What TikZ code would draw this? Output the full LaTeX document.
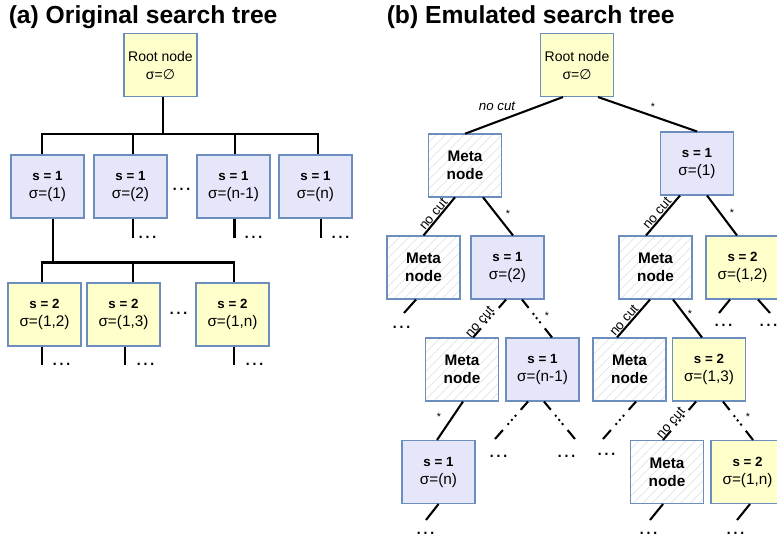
\documentclass[tikz,border=0pt]{standalone}
\usepackage{fontspec}
\setmainfont{Liberation Sans}
\newfontfamily\dvfont{DejaVu Sans}
\usetikzlibrary{calc,patterns.meta}
\definecolor{yfill}{RGB}{255,255,204}
\definecolor{bfill}{RGB}{230,230,250}
\definecolor{bordc}{RGB}{108,142,191}
\definecolor{hatchc}{RGB}{222,222,222}
\newcommand\boldlab[1]{{\bfseries\fontsize{10}{13.5}\selectfont #1}}
\newcommand\dotconn[2]{%
  \draw[conn] (#1) -- ($(#1)!0.22!(#2)$);
  \foreach \t in {0.38,0.49,0.60}{\fill ($(#1)!\t!(#2)$) circle (1.4);}
  \draw[conn] ($(#1)!0.76!(#2)$) -- (#2);}
\tikzset{
  box/.style={draw=bordc, line width=0.8pt, minimum width=54.75pt, minimum height=47.25pt,
    inner sep=0pt, align=center, font=\fontsize{11.5}{13.5}\selectfont},
  ybox/.style={box, fill=yfill},
  bbox/.style={box, fill=bfill},
  rootbox/.style={ybox, font=\fontsize{10.5}{13.5}\selectfont},
  mbox/.style={box, pattern={Lines[angle=45,distance=5pt,line width=0.4pt]}, pattern color=hatchc,
    font=\bfseries\fontsize{11.5}{13.5}\selectfont},
  conn/.style={line width=1.55pt, black},
  dotsty/.style={font=\fontsize{16}{16}\selectfont, inner sep=0pt, anchor=base west},
  nclab/.style={font=\fontsize{10}{12}\selectfont, inner sep=0.5pt},
  toplab/.style={font=\itshape\fontsize{10}{12}\selectfont, inner sep=0.5pt},
  star/.style={font=\fontsize{8}{10}\selectfont, inner sep=0.5pt},
  title/.style={font=\bfseries\fontsize{18.5}{20}\selectfont, inner sep=0pt, anchor=base west}
}
\begin{document}
\begin{tikzpicture}[x=0.75pt,y=-0.75pt]
\fill[white] (0,0) rectangle (777,533);
\useasboundingbox (0,0) rectangle (777,533);

% ---------- titles
\node[title] (ta) at (8.5,23.3) {(a) Original search tree};
\node[title] (tb) at (386.5,23.3) {(b) Emulated search tree};

% ---------- panel (a)
\node[rootbox] (ra) at (160.5,65) {Root node\\σ={\dvfont ∅}};
\node[bbox] (a1) at (47.5,186.5) {\boldlab{s = 1}\\σ=(1)};
\node[bbox] (a2) at (130.5,186.5) {\boldlab{s = 1}\\σ=(2)};
\node[bbox] (a3) at (233.5,186.5) {\boldlab{s = 1}\\σ=(n-1)};
\node[bbox] (a4) at (315.5,186.5) {\boldlab{s = 1}\\σ=(n)};
\node[ybox] (b1) at (44.5,314.5) {\boldlab{s = 2}\\σ=(1,2)};
\node[ybox] (b2) at (123.5,314.5) {\boldlab{s = 2}\\σ=(1,3)};
\node[ybox] (b3) at (232.5,314.5) {\boldlab{s = 2}\\σ=(1,n)};

\coordinate (barA) at (0,134);
\draw[conn] ($(ra.south)+(2.5,0)$) -- ($(ra.south |- barA)+(2.5,0)$);
\draw[conn] ($(a1.north)+(-5.5,0)$) |- ($(barA -| a4.north)+(2.5,0)$) -- ($(a4.north)+(2.5,0)$);
\draw[conn] ($(a2.north)+(2.5,0)$) -- ++(0,-21);
\draw[conn] ($(a3.north)+(1.5,0)$) -- ++(0,-21);
\draw[conn] ($(a1.south)+(5.5,0)$) -- ++(0,45);
\draw[conn] ($(b1.north)+(-2.5,0)$) |- ($(b3.north)+(1.5,-20)$) -- ($(b3.north)+(1.5,0)$);
\draw[conn] ($(b2.north)+(9.5,0)$) -- ++(0,-20);

\draw[conn] ($(a2.south)+(2.5,0)$) -- ++(0,19) coordinate (ea2);
\draw[conn] ($(a3.south)+(1,0)$) -- ++(0,19) coordinate (ea3);
\draw[conn] ($(a4.south)+(5.5,0)$) -- ++(0,19) coordinate (ea4);
\draw[conn] ($(b1.south)+(-2.5,0)$) -- ++(0,18) coordinate (eb1);
\draw[conn] ($(b2.south)+(1.5,0)$) -- ++(0,18) coordinate (eb2);
\draw[conn] ($(b3.south)+(1.5,0)$) -- ++(0,18) coordinate (eb3);

\node[dotsty] (da2) at (136.5,238) {…};
\node[dotsty] (da3) at (242.5,238) {…};
\node[dotsty] (da4) at (329.5,238) {…};
\node[dotsty] (ga1) at (170.5,190.5) {…};
\node[dotsty] (db1) at (50.5,365) {…};
\node[dotsty] (db2) at (134.5,365) {…};
\node[dotsty] (db3) at (243.5,365) {…};
\node[dotsty] (gb1) at (167.5,314.5) {…};

% ---------- panel (b)
\node[rootbox] (rb) at (577,65) {Root node\\σ={\dvfont ∅}};
\node[mbox] (m1) at (465,165.5) {Meta\\node};
\node[bbox] (c1) at (697,163.5) {\boldlab{s = 1}\\σ=(1)};
\node[mbox] (m2) at (423.5,267.5) {Meta\\node};
\node[bbox] (c2) at (507.5,267.5) {\boldlab{s = 1}\\σ=(2)};
\node[mbox] (m3) at (655.5,267.5) {Meta\\node};
\node[ybox] (d12) at (742.5,267.5) {\boldlab{s = 2}\\σ=(1,2)};
\node[mbox] (m4) at (462,369.5) {Meta\\node};
\node[bbox] (c3) at (542.5,369.5) {\boldlab{s = 1}\\σ=(n-1)};
\node[mbox] (m5) at (629.5,369.5) {Meta\\node};
\node[ybox] (d13) at (709,369.5) {\boldlab{s = 2}\\σ=(1,3)};
\node[bbox] (c4) at (438.5,472) {\boldlab{s = 1}\\σ=(n)};
\node[mbox] (m6) at (667,472) {Meta\\node};
\node[ybox] (d1n) at (747.5,472) {\boldlab{s = 2}\\σ=(1,n)};

% solid connectors
\draw[conn] ($(rb.south)+(-14,0)$) -- (m1.north);
\draw[conn] ($(rb.south)+(21,0)$) -- (c1.north);
\draw[conn] ($(m1.south)+(-10,0)$) -- (m2.north) node[nclab,pos=0.54,sloped,above] (l2) {no cut};
\draw[conn] ($(m1.south)+(18,0)$) -- ($(c2.north)+(5.5,0)$);
\draw[conn] ($(c1.south)+(-17,0)$) -- ($(m3.north)+(-9.5,0)$) node[nclab,pos=0.54,sloped,above] (l3) {no cut};
\draw[conn] ($(c1.south)+(10,0)$) -- ($(d12.north)+(-5.5,0)$);
\draw[conn] ($(m3.south)+(-5.5,0)$) -- ($(m5.north)+(-12.5,0)$) node[nclab,pos=0.65,sloped,above] (l5) {no cut};
\draw[conn] ($(m3.south)+(17.5,0)$) -- ($(d13.north)+(-7,0)$);
\draw[conn] ($(m4.south)+(1,0)$) -- ($(c4.north)+(-1.5,0)$);

% free ends
\coordinate (f1) at (404,313);
\coordinate (f2) at (719,313);
\coordinate (f3) at (770,313);
\coordinate (f4) at (495,439);
\coordinate (f5) at (575,439);
\coordinate (f6) at (603,439);
\coordinate (f7) at (426,520);
\coordinate (f8) at (650,520);
\coordinate (f9) at (737,520);
\draw[conn] ($(m2.south)+(-7.5,0)$) -- (f1);
\draw[conn] ($(d12.south)+(-12.5,0)$) -- (f2);
\draw[conn] ($(d12.south)+(15.5,0)$) -- (f3);
\draw[conn] (c4.south) -- (f7);
\draw[conn] ($(m6.south)+(-4,0)$) -- (f8);
\draw[conn] ($(d1n.south)+(2.5,0)$) -- (f9);

% dotted (elided) connectors
\coordinate (c2L) at ($(c2.south)+(-1.5,0)$);
\coordinate (m4T) at ($(m4.north)+(11,0)$);
\coordinate (c2R) at ($(c2.south)+(14.5,0)$);
\coordinate (c3T) at ($(c3.north)+(9.5,0)$);
\coordinate (c3L) at ($(c3.south)+(-14.5,0)$);
\coordinate (c3R) at ($(c3.south)+(1.5,0)$);
\coordinate (m5B) at ($(m5.south)+(6.5,0)$);
\coordinate (d13L) at ($(d13.south)+(-13,0)$);
\coordinate (m6T) at ($(m6.north)+(-4,0)$);
\coordinate (d13R) at ($(d13.south)+(14,0)$);
\coordinate (d1nT) at ($(d1n.north)+(5.5,0)$);
\dotconn{c2L}{m4T}
\dotconn{c2R}{c3T}
\dotconn{c3L}{f4}
\dotconn{c3R}{f5}
\dotconn{m5B}{f6}
\dotconn{d13L}{m6T}
\dotconn{d13R}{d1nT}
\path (c2L) -- (m4T) node[nclab,pos=0.68,sloped,above] (l4) {no cut};
\path (d13L) -- (m6T) node[nclab,pos=0.65,sloped,above] (l6) {no cut};

% labels
\node[toplab] (l1) at (497,106) {no cut};
\node[star] (s1) at (653,107) {*};
\node[star] (s2) at (508,214) {*};
\node[star] (s3) at (732,213) {*};
\node[star] (s4) at (547,316) {*};
\node[star] (s5) at (690,314) {*};
\node[star] (s6) at (439,417) {*};
\node[star] (s7) at (748,417) {*};

% elision dots (b)
\node[dotsty] (dm2) at (390.5,328.5) {…};
\node[dotsty] (dd1) at (712.5,326.5) {…};
\node[dotsty] (dd2) at (757.5,326.5) {…};
\node[dotsty] (dc1) at (487.5,457.5) {…};
\node[dotsty] (dc2) at (555.5,457.5) {…};
\node[dotsty] (dm5) at (595.5,455.5) {…};
\node[dotsty] (dc4) at (414.5,534) {…};
\node[dotsty] (dm6) at (637.5,534) {…};
\node[dotsty] (dd3) at (724.5,534) {…};
\end{tikzpicture}
\end{document}
